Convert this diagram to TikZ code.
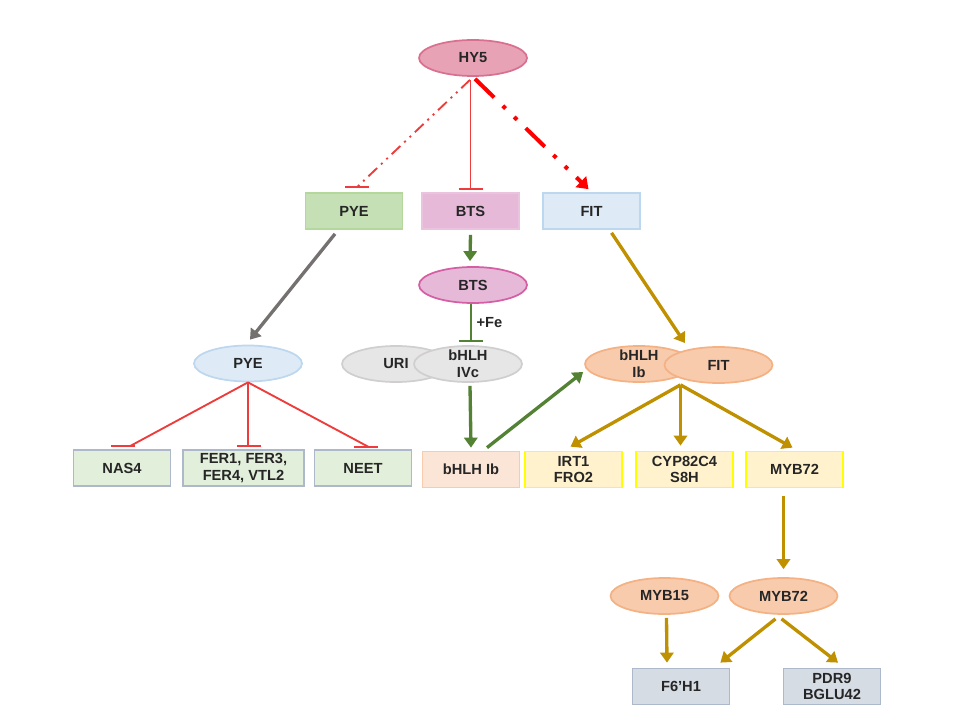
\documentclass[tikz,border=0pt]{standalone}
\usepackage{fontspec}
\setmainfont{Liberation Sans}
\usepackage{tikz}
\usetikzlibrary{calc,arrows.meta,shapes.geometric}
\definecolor{ink}{HTML}{262626}
\definecolor{hyfill}{HTML}{E8A2B6}
\definecolor{hyline}{HTML}{D9708F}
\definecolor{pyefill}{HTML}{C5E0B4}
\definecolor{pyeline}{HTML}{B4D89C}
\definecolor{btsfill}{HTML}{E6B9D8}
\definecolor{btsline}{HTML}{D65EA5}
\definecolor{bluefill}{HTML}{DEEBF7}
\definecolor{blueline}{HTML}{BDD7EE}
\definecolor{greyfill}{HTML}{E7E6E6}
\definecolor{greyline}{HTML}{D0CECE}
\definecolor{peach}{HTML}{F8CBAD}
\definecolor{peachline}{HTML}{F4B183}
\definecolor{peachlight}{HTML}{FBE5D6}
\definecolor{leaf}{HTML}{E2EFDA}
\definecolor{slate}{HTML}{ADB9CA}
\definecolor{slatefill}{HTML}{D6DCE4}
\definecolor{cream}{HTML}{FFF2CC}
\definecolor{yellowline}{HTML}{FFFF00}
\definecolor{gold}{HTML}{BF9000}
\definecolor{moss}{HTML}{548235}
\definecolor{ash}{HTML}{767171}
\definecolor{inhred}{HTML}{EE3B3B}
\definecolor{actred}{HTML}{FF0000}
\tikzset{
  box/.style={draw, line width=1.3pt, minimum width=72.75pt, minimum height=27pt, inner sep=1pt, align=center, text=ink, font=\fontsize{11}{12.5}\selectfont\bfseries},
  oval/.style={ellipse, draw, line width=1.3pt, minimum width=81pt, minimum height=27pt, inner sep=1pt, align=center, text=ink, font=\fontsize{11}{12.5}\selectfont\bfseries},
  inh/.style={draw=inhred, line width=1.4pt},
  ddot/.style={dash pattern=on 9pt off 4pt on 1.5pt off 4pt on 1.5pt off 4pt},
  fwd/.style={line width=2.5pt, -{Triangle[length=7.5pt,width=10pt]}},
  goldarr/.style={fwd, draw=gold},
  greenarr/.style={fwd, draw=moss},
  lab/.style={text=ink, font=\fontsize{11}{12.5}\selectfont\bfseries}
}
\begin{document}
\begin{tikzpicture}[x=0.75pt,y=-0.75pt]
  \useasboundingbox (0,0) rectangle (960,720);

  % top row
  \node[oval, fill=hyfill, draw=hyline] (hy5) at (473,58) {HY5};
  \node[box, fill=pyefill, draw=pyeline] (pye) at (354,211) {PYE};
  \node[box, fill=btsfill, draw=btsfill!85!white] (bts) at (470.5,211) {BTS};
  \node[box, fill=bluefill, draw=blueline] (fit) at (591.5,211) {FIT};

  % middle row
  \node[oval, fill=bluefill, draw=blueline] (pyee) at (248,363.5) {PYE};
  \node[oval, fill=btsfill, draw=btsline] (btse) at (473,285) {BTS};
  \node[oval, fill=greyfill, draw=greyline] (uri) at (396,364) {URI};
  \node[oval, fill=greyfill, draw=greyline, inner ysep=-2pt] (ivc) at (468,364) {bHLH\\IVc};
  \node[oval, fill=peach, draw=peachline, inner ysep=-2pt] (ibe) at (639,364) {bHLH\\Ib};
  \node[oval, fill=peach, draw=peachline] (fite) at (718.5,365) {FIT};

  % targets
  \node[box, fill=leaf, draw=slate] (nas) at (122,468) {NAS4};
  \node[box, fill=leaf, draw=slate, minimum width=90.75pt] (fer) at (243.5,468) {FER1, FER3,\\FER4, VTL2};
  \node[box, fill=leaf, draw=slate] (neet) at (363,468) {NEET};
  \node[box, fill=peachlight, draw=peach] (ibbox) at (471,469.5) {bHLH Ib};
  \node[box, fill=cream, draw=yellowline] (irt) at (573.5,469.5) {IRT1\\FRO2};
  \node[box, fill=cream, draw=yellowline] (cyp) at (684.5,469.5) {CYP82C4\\S8H};
  \node[box, fill=cream, draw=yellowline] (myb) at (794.5,469.5) {MYB72};

  % bottom
  \node[oval, fill=peach, draw=peachline] (m15e) at (664.5,596) {MYB15};
  \node[oval, fill=peach, draw=peachline] (m72e) at (783.5,596) {MYB72};
  \node[box, fill=slatefill, draw=slate] (f6h) at (681,686.5) {F6’H1};
  \node[box, fill=slatefill, draw=slate] (pdr) at (832,686.5) {PDR9\\BGLU42};

  % HY5 edges
  \coordinate (hyout) at ($(hy5.south)+(-3,3)$);
  \coordinate (pyebar) at ($(pye.north)+(3,-5)$);
  \coordinate (btsbar) at ($(bts.north)+(0,-3)$);
  \draw[inh, ddot] (hyout) -- (pyebar);
  \draw[inh] ($(pyebar)+(-12,0)$) -- ($(pyebar)+(12,0)$);
  \draw[inh] (hyout -| btsbar) -- (btsbar);
  \draw[inh] ($(btsbar)+(-12,0)$) -- ($(btsbar)+(12,0)$);
  \draw[actred, line width=3pt, dash pattern=on 20pt off 9pt on 3pt off 9pt on 3pt off 9pt,
        -{Triangle[length=8pt,width=11pt]}] ($(hy5.south)+(2,2)$) -- ($(fit.north)+(-3,-3)$);

  % PYE branch
  \draw[fwd, draw=ash] ($(pye.south)+(-19,4)$) -- ($(pyee.north)+(2,-5)$);
  \coordinate (nasbar) at ($(nas.north)+(1,-3)$);
  \coordinate (ferbar) at ($(fer.north)+(5,-3)$);
  \coordinate (neetbar) at ($(neet.north)+(3,-2)$);
  \draw[inh] (pyee.south) -- ($(nasbar)+(7,0)$);
  \draw[inh] ($(nasbar)+(-12,0)$) -- ($(nasbar)+(12,0)$);
  \draw[inh] (pyee.south) -- (pyee.south |- ferbar);
  \draw[inh] ($(ferbar)+(-12,0)$) -- ($(ferbar)+(12,0)$);
  \draw[inh] (pyee.south) -- ($(neetbar)+(3,0)$);
  \draw[inh] ($(neetbar)+(-12,0)$) -- ($(neetbar)+(12,0)$);

  % BTS branch
  \draw[greenarr] ($(bts.south)+(0,5)$) -- ($(btse.north)+(-3,-5)$);
  \coordinate (ivcbar) at ($(ivc.north)+(3,-4)$);
  \draw[draw=moss, line width=1.6pt] (ivcbar |- btse.south) -- (ivcbar)
    node[midway, right, lab] {+Fe};
  \draw[draw=moss, line width=1.6pt] ($(ivcbar)+(-12,0)$) -- ($(ivcbar)+(12,0)$);
  \draw[greenarr] ($(ivc.south)+(2,3)$) -- ($(ibbox.north)+(0,-3)$);
  \draw[greenarr] ($(ibbox.north)+(16,-3)$) -- ($(ibe.west)+(-1,8)$);

  % FIT branch
  \coordinate (fitin) at ($(ibe.east)+(-9,-21)$);
  \coordinate (hub) at ($(fite.south)+(-38,1)$);
  \draw[goldarr] ($(fit.south)+(20,3)$) -- (fitin);
  \draw[goldarr] (hub) -- ($(irt.north)+(-3,-4)$);
  \draw[goldarr] (hub) -- ($(cyp.north)+(-4,-5)$);
  \draw[goldarr] (hub) -- ($(myb.north)+(-2,-3)$);

  % MYB72 branch
  \draw[goldarr] ($(myb.south)+(-11,8)$) -- ($(m72e.north)+(0,-8)$);
  \draw[goldarr] ($(m15e.south)+(2,3)$) -- ($(f6h.north)+(-14,-5)$);
  \draw[goldarr] ($(m72e.south)+(-8,4)$) -- ($(f6h.north east)+(-10,-5)$);
  \draw[goldarr] ($(m72e.south)+(-2,4)$) -- ($(pdr.north)+(6,-5)$);
\end{tikzpicture}
\end{document}
